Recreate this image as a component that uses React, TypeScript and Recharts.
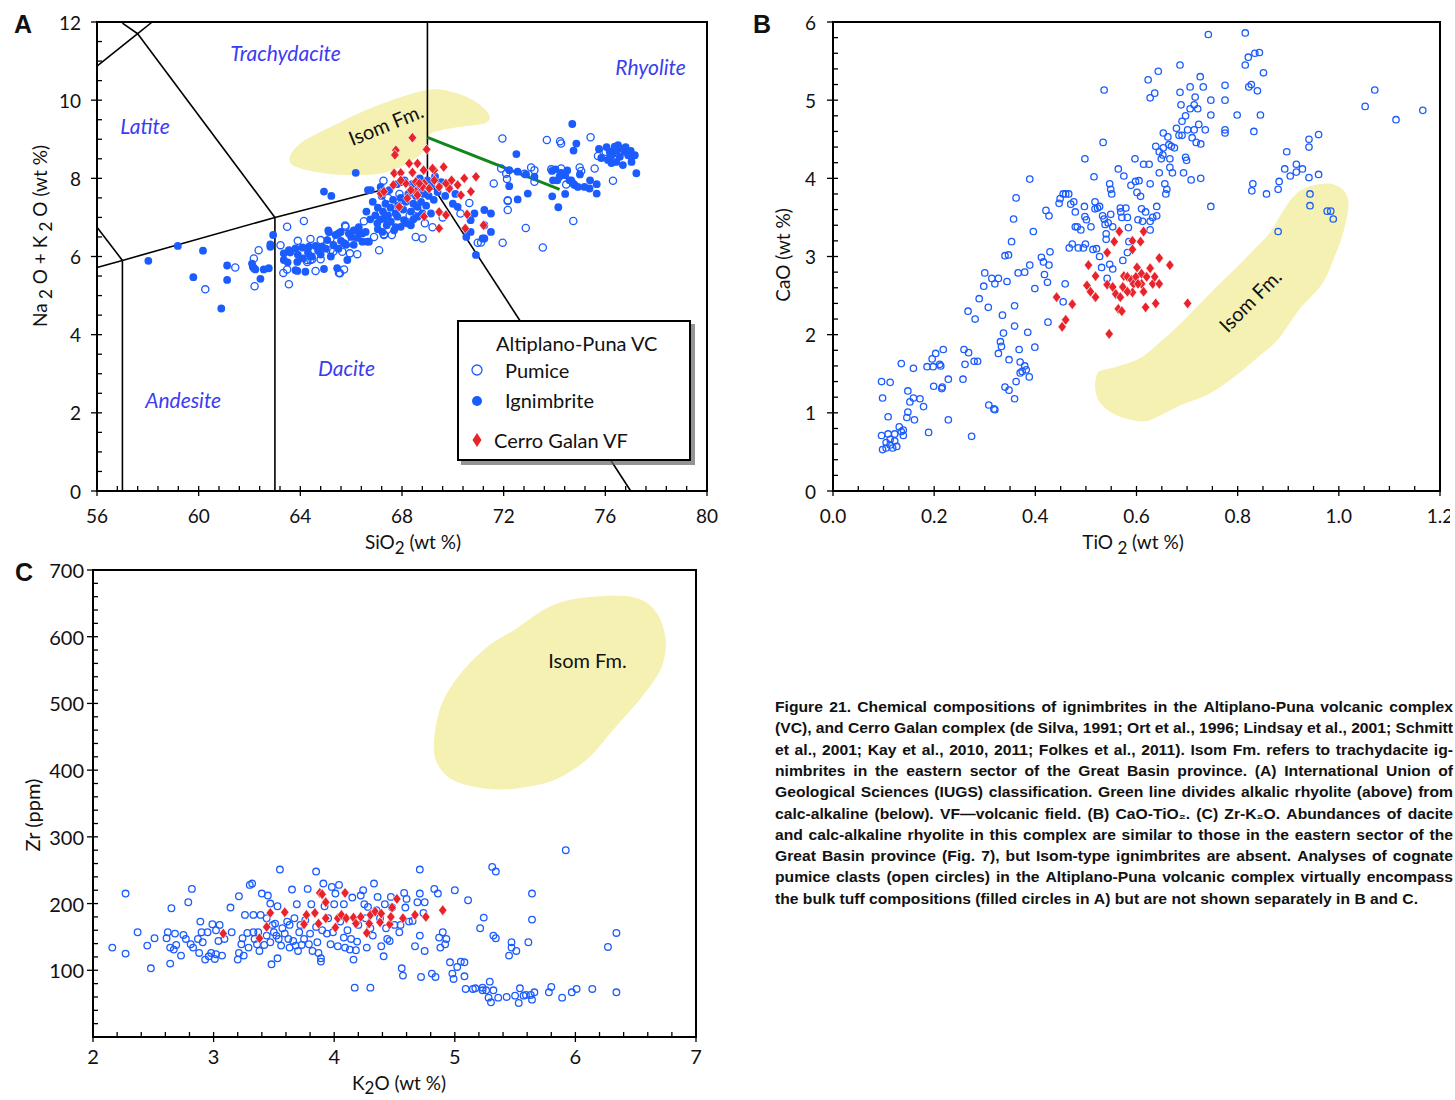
import React from 'react';
import {
  ScatterChart,
  Scatter,
  XAxis,
  YAxis,
  ReferenceLine,
  ReferenceArea,
  ReferenceDot,
  Legend,
} from 'recharts';

type P = [number, number];

const BLUE = '#1b5cff';
const RED = '#e8232b';
const LABEL_BLUE = '#3b3cf2';
const BLOB = '#f5f1b3';
const FONT = 'Lato, "Open Sans", "Noto Sans", sans-serif';

// ---------------- Panel A data (SiO2 vs Na2O+K2O) ----------------
const aIgnimbrite: P[] = [
  [58.02, 5.89], [59.18, 6.27], [60.17, 6.15], [59.79, 5.47], [61.12, 5.77], [61.12, 5.4], [60.89, 4.67],
  [62.13, 5.74], [62.23, 5.67], [62.56, 5.67], [62.76, 5.7], [62.43, 5.43], [62.82, 6.25], [62.93, 6.55],
  [62.17, 5.7], [62.1, 5.82], [62.82, 6.31], [63.35, 6.08], [63.55, 6.16], [63.81, 6.21], [64.08, 6.23],
  [64.34, 6.25], [64.6, 6.27], [64.86, 6.25], [65.12, 6.63], [65.06, 6.42], [65.39, 6.55], [65.59, 6.63],
  [65.72, 6.34], [65.91, 6.59], [66.18, 6.67], [66.44, 6.59], [66.57, 6.63], [66.7, 6.38], [66.44, 6.38],
  [63.35, 5.91], [63.88, 5.86], [63.81, 5.65], [64.2, 5.61], [64.93, 5.68], [65.45, 5.7], [65.85, 5.91],
  [63.88, 5.63], [63.5, 5.85], [63.6, 6.1], [63.9, 6.05], [64.1, 5.95], [64.3, 6.1], [64.45, 6.0],
  [64.7, 6.15], [64.8, 6.05], [65.0, 6.2], [65.2, 6.0], [65.3, 6.3], [65.5, 6.2], [65.6, 6.4], [65.8, 6.3],
  [66.0, 6.5], [66.1, 6.3], [66.25, 6.48], [66.3, 6.75], [65.1, 6.67], [65.5, 6.59], [66.1, 6.67],
  [66.37, 6.6], [66.64, 6.38], [64.93, 7.66], [65.22, 7.55], [66.66, 7.7], [66.18, 8.14],
  [67.03, 6.85], [67.29, 6.97], [67.56, 6.89], [67.82, 7.02], [68.08, 6.93], [68.35, 6.8], [67.23, 6.63],
  [67.69, 6.67], [67.95, 6.76], [68.61, 7.02], [69.14, 7.1], [68.61, 7.27],
  [66.95, 7.05], [67.05, 7.25], [67.15, 6.95], [67.25, 7.15], [67.35, 7.35], [67.45, 7.05], [67.55, 7.25],
  [67.65, 7.45], [67.75, 7.1], [67.85, 7.3], [67.95, 7.5], [68.05, 7.2], [68.15, 7.4], [68.25, 7.6],
  [68.35, 7.15], [68.45, 7.35], [68.55, 7.55], [68.65, 7.75], [68.75, 7.4], [68.85, 7.6], [68.95, 7.3],
  [69.05, 7.55], [69.15, 7.8], [69.25, 7.45], [69.4, 7.65], [69.55, 7.9], [69.7, 7.55], [69.85, 7.75],
  [70.0, 7.35], [70.1, 7.6], [66.85, 7.4], [67.2, 7.55], [67.5, 7.7], [67.8, 7.85], [68.1, 7.95],
  [68.4, 7.85], [68.7, 8.0], [69.0, 7.95], [69.3, 8.05], [67.05, 6.7], [67.4, 6.8], [67.75, 6.75],
  [68.2, 6.85], [68.45, 6.95], [68.8, 7.1], [66.75, 6.95], [66.6, 7.15], [66.77, 7.7], [67.16, 7.78],
  [70.58, 6.63], [70.91, 6.04], [71.24, 6.8], [71.5, 6.63], [70.85, 7.1], [71.24, 7.19], [71.5, 7.1],
  [71.24, 6.46], [70.7, 6.63], [71.17, 6.46], [70.53, 6.5], [70.19, 7.27], [70.7, 6.93],
  [74.7, 9.39], [74.86, 8.89], [74.75, 8.71], [72.5, 8.62], [74.66, 7.95], [74.79, 7.83], [75.18, 7.78],
  [75.38, 7.74], [75.66, 7.61], [75.66, 7.85], [73.91, 7.54], [74.42, 7.6], [74.15, 7.26], [72.95, 7.61],
  [72.55, 7.46], [72.22, 7.8], [73.9, 8.19], [74.04, 8.23], [74.26, 8.14], [74.42, 8.08], [74.11, 7.95],
  [73.94, 7.95], [74.59, 7.95], [74.73, 7.87], [74.92, 7.78], [72.22, 8.21], [72.55, 8.17], [72.88, 8.1],
  [73.21, 8.04], [74.2, 8.05], [74.5, 8.2], [75.0, 8.1], [75.4, 7.95],
  [75.75, 8.75], [76.1, 8.47], [76.17, 8.68], [76.37, 8.81], [76.5, 8.85], [76.63, 8.76], [76.76, 8.68],
  [76.9, 8.59], [77.03, 8.55], [77.16, 8.59], [76.57, 8.55], [76.43, 8.42], [76.69, 8.34], [77.03, 8.42],
  [77.22, 8.13], [76.24, 8.39], [75.84, 8.52], [76.3, 8.62], [76.45, 8.72], [76.8, 8.8], [77.0, 8.7],
  [76.2, 8.55], [76.05, 8.8],
];

const aPumice: P[] = [
  [71.95, 9.02], [73.7, 8.98], [74.22, 8.95], [74.26, 8.89], [75.42, 9.05], [76.01, 8.68], [75.71, 8.57],
  [71.9, 8.25], [72.1, 8.12], [72.13, 7.98], [72.82, 8.12], [73.08, 8.28], [73.21, 8.21], [73.21, 7.91],
  [71.61, 7.87], [73.87, 8.23], [74.26, 8.25], [74.99, 8.28], [75.05, 8.19], [75.58, 8.25], [74.46, 7.84],
  [76.3, 7.94], [72.16, 7.42], [72.16, 7.19], [72.87, 6.73], [71.96, 6.35], [73.54, 6.23], [74.74, 6.91],
  [67.27, 7.94], [68.81, 6.46], [68.54, 6.5], [67.1, 6.16], [71.11, 6.36], [63.48, 6.76], [64.14, 6.91],
  [62.36, 6.16], [62.17, 5.95], [61.44, 5.72], [60.26, 5.16], [62.2, 5.24], [63.22, 6.29], [63.55, 5.29],
  [63.33, 5.58], [63.48, 5.67], [64.27, 5.91], [64.47, 5.93], [64.8, 5.93], [64.6, 5.63], [65.72, 5.67],
  [65.56, 5.57], [65.29, 6.12], [65.95, 6.08], [66.24, 6.06], [64.8, 6.42], [65.19, 6.46], [65.76, 6.79],
  [66.11, 6.59], [67.29, 6.55], [67.14, 7.1], [70.65, 7.37], [72.16, 7.44], [70.98, 6.35], [67.9, 7.6],
  [68.3, 7.05], [66.9, 6.5], [67.6, 6.55], [68.9, 6.85], [69.6, 7.0], [70.3, 7.1], [69.2, 6.75],
  [66.0, 6.35], [64.4, 6.45], [63.9, 6.4], [64.4, 5.91], [64.27, 5.86], [65.19, 6.16], [65.65, 6.12],
  [65.52, 5.58], [65.78, 6.76], [67.29, 6.57], [67.45, 7.5], [68.0, 7.45], [68.6, 7.2], [66.5, 6.9],
];

const aCerroGalan: P[] = [
  [68.41, 9.04], [67.76, 8.72], [67.72, 8.6], [68.28, 8.38], [68.61, 8.38], [68.41, 8.15], [67.69, 8.13],
  [67.95, 8.14], [68.85, 8.21], [69.27, 8.21], [69.64, 8.29], [67.16, 7.61], [67.29, 7.66], [67.66, 7.83],
  [68.15, 7.87], [68.54, 7.91], [68.87, 7.87], [68.21, 7.49], [68.54, 7.66], [67.89, 7.27], [68.87, 7.02],
  [69.46, 7.14], [69.46, 6.72], [68.97, 8.74], [69.2, 8.25], [69.27, 7.95], [69.46, 7.78], [70.45, 8.0],
  [70.91, 8.04], [70.19, 7.83], [69.86, 7.74], [69.73, 7.87], [70.32, 7.57], [70.71, 7.66], [68.61, 7.57],
  [68.81, 7.78], [69.07, 7.74], [68.68, 7.87], [69.73, 7.06], [70.56, 7.08], [70.49, 6.72], [71.21, 6.8],
  [67.95, 7.95], [68.35, 7.7], [69.95, 7.95],
];

const aIsomOutline: P[] = [
  [63.59, 8.55], [63.8, 8.3], [64.93, 8.13], [66.24, 8.08], [67.29, 8.14], [68.22, 8.38], [68.87, 8.72],
  [69.06, 9.1], [69.53, 9.23], [70.32, 9.32], [71.24, 9.4], [71.44, 9.6], [70.98, 9.92], [70.19, 10.17],
  [69.01, 10.26], [66.9, 9.83], [64.93, 9.23], [64.01, 8.9],
];

const tasBoundaries: P[][] = [
  [[57, 0], [57, 5.9]],
  [[63, 0], [63, 7]],
  [[56, 5.72], [57, 5.9]],
  [[57, 5.9], [63, 7]],
  [[63, 7], [69, 8]],
  [[69, 8], [77, 0]],
  [[69, 8], [69, 12]],
  [[63, 7], [57.6, 11.7]],
  [[57.6, 11.7], [58.17, 12]],
  [[57.6, 11.7], [57, 11.97]],
  [[56, 10.87], [57.6, 11.7]],
  [[56, 6.75], [57, 5.9]],
];
const alkalicDivide: P[] = [[69, 9.05], [74.2, 7.72]];

const tasFieldNames = ['Trachydacite', 'Latite', 'Rhyolite', 'Dacite', 'Andesite'];
const tasFieldPos: P[] = [[63.42, 11.23], [57.89, 9.36], [77.78, 10.87], [65.82, 3.17], [59.39, 2.35]];

// ---------------- Panel B data (TiO2 vs CaO) ----------------
const bPumice: P[] = [
  [0.096, 1.4], [0.113, 1.39], [0.098, 1.19], [0.109, 0.95], [0.096, 0.71], [0.105, 0.62], [0.098, 0.53],
  [0.113, 0.59], [0.122, 0.64], [0.109, 0.73], [0.131, 0.82], [0.139, 0.78], [0.139, 0.71], [0.118, 0.55],
  [0.126, 0.57], [0.135, 0.76], [0.113, 0.66], [0.105, 0.55], [0.122, 0.73],
  [0.135, 1.63], [0.159, 1.57], [0.148, 1.28], [0.152, 1.14], [0.159, 1.19], [0.148, 1.01], [0.146, 0.94],
  [0.161, 0.91], [0.172, 1.18], [0.179, 1.08], [0.189, 0.75], [0.186, 1.59], [0.196, 1.69], [0.203, 1.76],
  [0.198, 1.59], [0.211, 1.62], [0.213, 1.6], [0.218, 1.81], [0.199, 1.34], [0.216, 1.33], [0.215, 1.31],
  [0.228, 1.43], [0.228, 0.91], [0.257, 1.43], [0.259, 1.81], [0.261, 1.62], [0.268, 1.77], [0.279, 1.66],
  [0.286, 1.66], [0.274, 0.7], [0.267, 2.3], [0.281, 2.2], [0.289, 2.46], [0.3, 2.79], [0.298, 2.62],
  [0.307, 2.35], [0.314, 2.72], [0.32, 2.65], [0.327, 2.72], [0.308, 1.1], [0.318, 1.05], [0.32, 1.04],
  [0.335, 2.25], [0.337, 2.02], [0.333, 1.85], [0.327, 1.76], [0.331, 1.91], [0.34, 1.33], [0.348, 1.29],
  [0.348, 1.68], [0.344, 2.68], [0.34, 3.01], [0.347, 3.02], [0.353, 3.19], [0.357, 3.48], [0.362, 3.75],
  [0.389, 3.99], [0.359, 2.37], [0.359, 2.11], [0.366, 2.79], [0.379, 2.8], [0.362, 1.4], [0.359, 1.18],
  [0.368, 1.81], [0.37, 1.65], [0.374, 1.53], [0.379, 1.6], [0.382, 1.55], [0.37, 1.51], [0.385, 2.03],
  [0.389, 2.89], [0.388, 1.46], [0.396, 3.32], [0.399, 2.59], [0.399, 1.84], [0.412, 2.99], [0.416, 2.93],
  [0.418, 2.77], [0.421, 3.59], [0.427, 3.52], [0.424, 2.67], [0.425, 2.16], [0.427, 2.89], [0.429, 3.06],
  [0.449, 3.74], [0.447, 3.68], [0.455, 3.8], [0.46, 3.8], [0.466, 3.8], [0.47, 3.67], [0.476, 3.7],
  [0.479, 3.57], [0.467, 3.11], [0.473, 3.16], [0.479, 3.38], [0.483, 3.38], [0.485, 3.11], [0.455, 2.42],
  [0.459, 2.65],
  [0.498, 4.25], [0.497, 3.64], [0.498, 3.51], [0.501, 3.47], [0.499, 3.16], [0.495, 3.11], [0.49, 3.34],
  [0.51, 3.38], [0.516, 4.02], [0.518, 3.7], [0.518, 3.61], [0.523, 3.62], [0.527, 3.64], [0.514, 3.09],
  [0.521, 3.1], [0.527, 3.0], [0.536, 5.13], [0.534, 4.46], [0.531, 2.86], [0.533, 3.52], [0.536, 3.48],
  [0.538, 3.41], [0.544, 3.43], [0.547, 3.93], [0.549, 3.86], [0.551, 3.8], [0.549, 3.54], [0.553, 3.38],
  [0.54, 3.29], [0.54, 3.22], [0.542, 2.72], [0.547, 2.9], [0.553, 2.84], [0.564, 4.12], [0.568, 3.62],
  [0.569, 3.57], [0.571, 3.5], [0.573, 2.95], [0.575, 4.03], [0.579, 3.62], [0.582, 3.5], [0.584, 3.37],
  [0.585, 3.19], [0.589, 3.91], [0.582, 3.05], [0.597, 4.25], [0.598, 3.96], [0.601, 3.82], [0.603, 3.47],
  [0.605, 3.97], [0.608, 3.77], [0.61, 3.61], [0.612, 3.45], [0.614, 4.18], [0.618, 3.57], [0.623, 5.26],
  [0.625, 4.18], [0.627, 5.03], [0.627, 3.93], [0.627, 3.45], [0.627, 3.34], [0.632, 3.5], [0.636, 5.09],
  [0.638, 4.41], [0.64, 3.52], [0.64, 3.64], [0.643, 5.37], [0.645, 4.34], [0.645, 4.07], [0.649, 4.25],
  [0.652, 4.3], [0.653, 4.58], [0.653, 4.39], [0.656, 3.93], [0.658, 3.8], [0.66, 3.86], [0.662, 4.53],
  [0.664, 4.43], [0.666, 4.25], [0.666, 4.14], [0.669, 4.41], [0.671, 4.07], [0.675, 4.39], [0.679, 4.64],
  [0.684, 4.55], [0.686, 5.45], [0.686, 5.1], [0.688, 4.94], [0.69, 4.73], [0.69, 4.55], [0.693, 4.07],
  [0.697, 4.8], [0.697, 4.27], [0.699, 4.23], [0.701, 4.62], [0.706, 5.17], [0.706, 4.89], [0.708, 3.98],
  [0.71, 4.52], [0.714, 4.94], [0.714, 4.62], [0.716, 5.04], [0.718, 4.46], [0.721, 4.89], [0.723, 4.69],
  [0.726, 5.3], [0.727, 4.44], [0.727, 4.0], [0.732, 5.17], [0.736, 4.62], [0.742, 5.84], [0.747, 5.0],
  [0.747, 4.81], [0.747, 3.64], [0.775, 5.19], [0.775, 5.0], [0.775, 4.62], [0.775, 4.58], [0.799, 4.81],
  [0.815, 5.86], [0.815, 5.45], [0.821, 5.55], [0.827, 5.2], [0.822, 5.17], [0.834, 5.6], [0.839, 5.12],
  [0.843, 5.61], [0.845, 4.81], [0.832, 4.6], [0.851, 5.35], [0.828, 3.84], [0.83, 3.93], [0.857, 3.8],
  [0.88, 3.86], [0.882, 3.96], [0.88, 3.32], [0.893, 4.12], [0.897, 4.34], [0.904, 4.03], [0.916, 4.18],
  [0.916, 4.08], [0.928, 4.12], [0.941, 4.5], [0.941, 4.4], [0.941, 4.01], [0.943, 3.8], [0.943, 3.65],
  [0.96, 4.56], [0.96, 4.05], [0.977, 3.58], [0.984, 3.58], [0.989, 3.48], [1.052, 4.92], [1.071, 5.13],
  [1.113, 4.75], [1.166, 4.87],
];

const bCerroGalan: P[] = [
  [0.442, 2.48], [0.453, 2.1], [0.46, 2.19], [0.473, 2.39], [0.505, 2.89], [0.502, 2.63], [0.509, 2.55],
  [0.519, 2.75], [0.519, 2.48], [0.542, 3.05], [0.542, 2.64], [0.546, 2.01], [0.556, 3.19], [0.553, 2.61],
  [0.559, 2.52], [0.566, 3.32], [0.568, 2.48], [0.564, 2.33], [0.571, 2.3], [0.573, 2.61], [0.575, 2.75],
  [0.582, 2.74], [0.59, 2.7], [0.592, 3.2], [0.592, 3.09], [0.594, 2.65], [0.592, 2.54], [0.599, 2.74],
  [0.601, 2.86], [0.608, 3.19], [0.61, 2.78], [0.61, 2.65], [0.614, 3.32], [0.614, 2.55], [0.618, 2.35],
  [0.62, 2.74], [0.627, 2.85], [0.632, 2.65], [0.636, 2.74], [0.638, 2.4], [0.645, 2.98], [0.645, 2.65],
  [0.666, 2.89], [0.701, 2.4], [0.603, 2.65], [0.582, 2.55],
];

const bIsomOutline: P[] = [
  [0.523, 1.51], [0.518, 1.33], [0.527, 1.14], [0.557, 0.98], [0.61, 0.89], [0.645, 0.96], [0.688, 1.1],
  [0.74, 1.23], [0.793, 1.46], [0.836, 1.69], [0.88, 1.94], [0.923, 2.33], [0.967, 2.65], [0.993, 3.02],
  [1.01, 3.34], [1.019, 3.66], [1.01, 3.84], [0.984, 3.93], [0.949, 3.91], [0.923, 3.84], [0.902, 3.7],
  [0.884, 3.52], [0.862, 3.29], [0.828, 3.06], [0.793, 2.83], [0.758, 2.61], [0.723, 2.38], [0.688, 2.15],
  [0.653, 1.94], [0.61, 1.71], [0.566, 1.6], [0.536, 1.55],
];

// ---------------- Panel C data (K2O vs Zr) ----------------
const cPumice: P[] = [
  [2.16, 134], [2.27, 215], [2.27, 125], [2.37, 157], [2.45, 137], [2.48, 103], [2.51, 148], [2.61, 148],
  [2.62, 157], [2.64, 110], [2.64, 134], [2.65, 193], [2.67, 131], [2.68, 155], [2.69, 138], [2.73, 122],
  [2.75, 153], [2.77, 147], [2.79, 202], [2.81, 139], [2.82, 222], [2.83, 134], [2.87, 147], [2.88, 126],
  [2.89, 173], [2.9, 157], [2.91, 142], [2.93, 116], [2.95, 157], [2.96, 121], [2.98, 126], [2.99, 169],
  [3.01, 117], [3.02, 124], [3.02, 160], [3.04, 144], [3.05, 168], [3.07, 122], [3.09, 147], [3.14, 194],
  [3.15, 157], [3.2, 116], [3.21, 211], [3.21, 126], [3.23, 139], [3.24, 148], [3.25, 122], [3.26, 183],
  [3.28, 156], [3.29, 134], [3.3, 228], [3.32, 230], [3.33, 157], [3.33, 183], [3.34, 147], [3.36, 139],
  [3.37, 157], [3.38, 129], [3.39, 183], [3.4, 215], [3.42, 138], [3.44, 152], [3.44, 178], [3.45, 212],
  [3.47, 200], [3.47, 142], [3.48, 109], [3.49, 168], [3.5, 157], [3.51, 170], [3.52, 152], [3.53, 118],
  [3.53, 196], [3.54, 147], [3.55, 251], [3.56, 137], [3.57, 163], [3.59, 155], [3.61, 173], [3.62, 147],
  [3.63, 134], [3.63, 168], [3.65, 221], [3.66, 144], [3.67, 178], [3.68, 137], [3.69, 199], [3.7, 129],
  [3.71, 157], [3.72, 168], [3.73, 138], [3.75, 147], [3.76, 175], [3.78, 222], [3.79, 139], [3.8, 155],
  [3.81, 199], [3.82, 129], [3.85, 165], [3.85, 248], [3.86, 142], [3.87, 126], [3.89, 118], [3.89, 113],
  [3.9, 160], [3.91, 230], [3.92, 196], [3.94, 155], [3.95, 178], [3.97, 139], [3.98, 225], [3.99, 157],
  [4.0, 199], [4.01, 215], [4.03, 136], [4.04, 228], [4.05, 173], [4.08, 149], [4.08, 199], [4.09, 134],
  [4.11, 160], [4.13, 131], [4.14, 147], [4.15, 209], [4.16, 116], [4.17, 74], [4.18, 130], [4.19, 143],
  [4.2, 168], [4.22, 212], [4.24, 220], [4.25, 199], [4.26, 178], [4.27, 134], [4.28, 195], [4.3, 74],
  [4.3, 163], [4.32, 152], [4.33, 230], [4.35, 190], [4.36, 210], [4.38, 178], [4.39, 136], [4.41, 121],
  [4.42, 199], [4.43, 163], [4.44, 147], [4.46, 144], [4.47, 210], [4.48, 194], [4.5, 168], [4.54, 157],
  [4.55, 168], [4.56, 103], [4.57, 92], [4.58, 216], [4.59, 194], [4.6, 207], [4.62, 173], [4.65, 174],
  [4.67, 136], [4.69, 202], [4.71, 251], [4.71, 215], [4.71, 152], [4.72, 90], [4.74, 186], [4.75, 129],
  [4.75, 202], [4.81, 95], [4.83, 222], [4.84, 90], [4.86, 215], [4.87, 149], [4.88, 134], [4.9, 157],
  [4.92, 139], [4.93, 147], [4.96, 112], [4.98, 95], [4.99, 87], [5.0, 220], [5.02, 105], [5.05, 113],
  [5.08, 112], [5.08, 91], [5.09, 72], [5.11, 205], [5.15, 72], [5.17, 73], [5.21, 163], [5.23, 74],
  [5.23, 70], [5.24, 179], [5.26, 70], [5.28, 59], [5.29, 83], [5.3, 52], [5.31, 255], [5.32, 70],
  [5.32, 152], [5.34, 248], [5.34, 148], [5.36, 59], [5.43, 60], [5.45, 122], [5.47, 134], [5.47, 142],
  [5.5, 62], [5.51, 129], [5.53, 51], [5.54, 73], [5.57, 62], [5.59, 63], [5.61, 142], [5.63, 63],
  [5.64, 215], [5.64, 56], [5.64, 176], [5.66, 67], [5.78, 67], [5.8, 75], [5.89, 59], [5.92, 280],
  [5.97, 67], [6.01, 72], [6.14, 72], [6.27, 135], [6.34, 67], [6.34, 156],
];

const cCerroGalan: P[] = [
  [3.08, 155], [3.38, 148], [3.44, 165], [3.47, 186], [3.59, 187], [3.75, 169], [3.77, 183], [3.84, 186],
  [3.87, 170], [3.88, 216], [3.9, 214], [3.93, 178], [3.93, 202], [4.01, 164], [4.03, 178], [4.06, 183],
  [4.09, 216], [4.1, 178], [4.16, 179], [4.18, 170], [4.22, 180], [4.27, 156], [4.29, 170], [4.3, 183],
  [4.34, 188], [4.38, 172], [4.39, 185], [4.46, 169], [4.47, 180], [4.48, 194], [4.52, 207], [4.57, 178],
  [4.67, 183], [4.76, 180], [4.9, 190],
];

const cIsomOutline: P[] = [
  [4.826, 438], [4.883, 495], [5.035, 542], [5.263, 584], [5.492, 610], [5.797, 646], [6.101, 659],
  [6.482, 659], [6.673, 636], [6.749, 594], [6.711, 553], [6.558, 511], [6.33, 464], [6.101, 417],
  [5.835, 386], [5.53, 373], [5.263, 372], [4.997, 384], [4.864, 407],
];

// ---------------- Axis tick values ----------------
const seq = (a: number, b: number, step: number) => {
  const out: number[] = [];
  for (let i = 0; a + i * step <= b + 1e-9; i++) out.push(Math.round((a + i * step) * 10000) / 10000);
  return out;
};
const aXMajor = [56, 60, 64, 68, 72, 76, 80];
const aYMajor = [0, 2, 4, 6, 8, 10, 12];
const bXMajor = [0, 0.2, 0.4, 0.6, 0.8, 1.0, 1.2];
const bYMajor = [0, 1, 2, 3, 4, 5, 6];
const cXMajor = [2, 3, 4, 5, 6, 7];
const cYMajor = [100, 200, 300, 400, 500, 600, 700];

const aXTicks = seq(56, 80, 0.8);
const aYTicks = seq(0, 12, 0.5);
const bXTicks = seq(0, 1.2, 0.05);
const bYTicks = seq(0, 6, 0.2);
const cXTicks = seq(2, 7, 0.2);
const cYTicks = seq(0, 700, 20);

const captionLines = [
  'Figure 21. Chemical compositions of ignimbrites in the Altiplano-Puna volcanic complex',
  '(VC), and Cerro Galan complex (de Silva, 1991; Ort et al., 1996; Lindsay et al., 2001; Schmitt',
  'et al., 2001; Kay et al., 2010, 2011; Folkes et al., 2011). Isom Fm. refers to trachydacite ig-',
  'nimbrites in the eastern sector of the Great Basin province. (A) International Union of',
  'Geological Sciences (IUGS) classification. Green line divides alkalic rhyolite (above) from',
  'calc-alkaline (below). VF\u2014volcanic field. (B) CaO-TiO\u2082. (C) Zr-K\u2082O. Abundances of dacite',
  'and calc-alkaline rhyolite in this complex are similar to those in the eastern sector of the',
  'Great Basin province (Fig. 7), but Isom-type ignimbrites are absent. Analyses of cognate',
  'pumice clasts (open circles) in the Altiplano-Puna volcanic complex virtually encompass',
  'the bulk tuff compositions (filled circles in A) but are not shown separately in B and C.',
];

// ---------------- helpers ----------------
const toObj = (arr: P[]) => arr.map(([x, y]) => ({ x, y }));
const isIn = (list: number[], v: number) => list.some((m) => Math.abs(m - v) < 1e-6);

function makeXTick(majors: number[], fmt: (v: number) => string, fontSize: number, labelDy: number) {
  return (props: any) => {
    const { x, y, payload } = props;
    const v = payload.value;
    const major = isIn(majors, v);
    return (
      <g>
        <line x1={x} x2={x} y1={major ? y + 5 : y} y2={y - 5} stroke="#000" strokeWidth={1.3} />
        {major && (
          <text x={x} y={y + labelDy} textAnchor="middle" dominantBaseline="central" fontSize={fontSize} fontFamily={FONT} fill="#111">
            {fmt(v)}
          </text>
        )}
      </g>
    );
  };
}

function makeYTick(majors: number[], fmt: (v: number) => string, fontSize: number, labelDx: number) {
  return (props: any) => {
    const { x, y, payload } = props;
    const v = payload.value;
    const major = isIn(majors, v);
    return (
      <g>
        <line x1={major ? x - 6 : x} x2={x + 5} y1={y} y2={y} stroke="#000" strokeWidth={1.3} />
        {major && (
          <text x={x - labelDx} y={y} textAnchor="end" dominantBaseline="central" fontSize={fontSize} fontFamily={FONT} fill="#111">
            {fmt(v)}
          </text>
        )}
      </g>
    );
  };
}

const openCircle = (r: number) => (p: any) => (
  <circle cx={p.cx} cy={p.cy} r={r} fill="none" stroke={BLUE} strokeWidth={1.3} />
);
const filledCircle = (r: number) => (p: any) => <circle cx={p.cx} cy={p.cy} r={r} fill={BLUE} />;
const diamond = (hw: number, hh: number) => (p: any) => (
  <polygon
    points={`${p.cx},${p.cy - hh} ${p.cx + hw},${p.cy} ${p.cx},${p.cy + hh} ${p.cx - hw},${p.cy}`}
    fill={RED}
    stroke="#fff"
    strokeWidth={0.6}
  />
);

function bounds(outline: P[]) {
  const xs = outline.map((p) => p[0]);
  const ys = outline.map((p) => p[1]);
  return { x1: Math.min(...xs), x2: Math.max(...xs), y1: Math.min(...ys), y2: Math.max(...ys) };
}

function blobShape(outline: P[], label: { x: number; y: number; rotate: number; size: number }) {
  const b = bounds(outline);
  return (props: any) => {
    const { x, y, width, height } = props;
    const sx = (v: number) => x + ((v - b.x1) / (b.x2 - b.x1)) * width;
    const sy = (v: number) => y + ((b.y2 - v) / (b.y2 - b.y1)) * height;
    const pts = outline.map(([a, c]) => [sx(a), sy(c)]);
    const n = pts.length;
    let d = `M${pts[0][0]},${pts[0][1]}`;
    for (let i = 0; i < n; i++) {
      const p0 = pts[(i - 1 + n) % n];
      const p1 = pts[i];
      const p2 = pts[(i + 1) % n];
      const p3 = pts[(i + 2) % n];
      const c1 = [p1[0] + (p2[0] - p0[0]) / 6, p1[1] + (p2[1] - p0[1]) / 6];
      const c2 = [p2[0] - (p3[0] - p1[0]) / 6, p2[1] - (p3[1] - p1[1]) / 6];
      d += ` C${c1[0]},${c1[1]} ${c2[0]},${c2[1]} ${p2[0]},${p2[1]}`;
    }
    const lx = sx(label.x);
    const ly = sy(label.y);
    return (
      <g>
        <path d={d + ' Z'} fill={BLOB} stroke="none" />
        <text
          x={lx}
          y={ly}
          transform={`rotate(${label.rotate} ${lx} ${ly})`}
          textAnchor="middle"
          dominantBaseline="central"
          fontSize={label.size}
          fontFamily={FONT}
          fill="#111"
        >
          Isom Fm.
        </text>
      </g>
    );
  };
}

const fieldLabel = (name: string) => (p: any) => (
  <text x={p.cx} y={p.cy} textAnchor="middle" dominantBaseline="central" fontSize={21} fontStyle="italic" fontFamily={FONT} fill={LABEL_BLUE}>
    {name}
  </text>
);

const LegendBox = () => (
  <svg width={240} height={148} style={{ display: 'block', overflow: 'visible' }}>
    <rect x={4} y={4} width={234} height={141} fill="#666" opacity={0.7} />
    <rect x={1} y={1} width={232} height={139} fill="#fff" stroke="#000" strokeWidth={2} />
    <text x={39} y={23} dominantBaseline="central" fontSize={20} fontFamily={FONT} fill="#111">Altiplano-Puna VC</text>
    <circle cx={20} cy={50} r={5} fill="none" stroke={BLUE} strokeWidth={1.3} />
    <text x={48} y={50} dominantBaseline="central" fontSize={20} fontFamily={FONT} fill="#111">Pumice</text>
    <circle cx={20} cy={81} r={5} fill={BLUE} />
    <text x={48} y={80} dominantBaseline="central" fontSize={20} fontFamily={FONT} fill="#111">Ignimbrite</text>
    <polygon points="20,113 24.5,120 20,127 15.5,120" fill={RED} />
    <text x={37} y={120} dominantBaseline="central" fontSize={20} fontFamily={FONT} fill="#111">Cerro Galan VF</text>
  </svg>
);

const axisLineStyle = { stroke: '#000', strokeWidth: 2 };

function PanelA() {
  return (
    <ScatterChart width={730} height={560} margin={{ top: 22, right: 23, bottom: 0, left: 0 }}>
      <XAxis
        type="number"
        dataKey="x"
        domain={[56, 80]}
        ticks={aXTicks}
        interval={0}
        allowDataOverflow
        height={69}
        tickSize={0}
        tickMargin={0}
        tickLine={false}
        axisLine={axisLineStyle}
        tick={makeXTick(aXMajor, (v) => String(v), 19, 24)}
      />
      <YAxis
        type="number"
        dataKey="y"
        domain={[0, 12]}
        ticks={aYTicks}
        interval={0}
        allowDataOverflow
        width={97}
        tickSize={0}
        tickMargin={0}
        tickLine={false}
        axisLine={axisLineStyle}
        tick={makeYTick(aYMajor, (v) => String(v), 19, 16)}
      />
      <ReferenceArea
        {...bounds(aIsomOutline)}
        ifOverflow="visible"
        shape={blobShape(aIsomOutline, { x: 67.36, y: 9.39, rotate: -22, size: 20 })}
      />
      {tasFieldNames.map((name, i) => (
        <ReferenceDot key={name} x={tasFieldPos[i][0]} y={tasFieldPos[i][1]} ifOverflow="visible" shape={fieldLabel(name)} />
      ))}
      <Scatter data={toObj(aPumice)} isAnimationActive={false} shape={openCircle(3.6)} />
      <Scatter data={toObj(aIgnimbrite)} isAnimationActive={false} shape={filledCircle(3.9)} />
      <Scatter data={toObj(aCerroGalan)} isAnimationActive={false} shape={diamond(4.3, 5.2)} />
      {tasBoundaries.map((seg, i) => (
        <ReferenceLine
          key={i}
          segment={[{ x: seg[0][0], y: seg[0][1] }, { x: seg[1][0], y: seg[1][1] }]}
          stroke="#000"
          strokeWidth={1.6}
          ifOverflow="visible"
        />
      ))}
      <ReferenceLine
        segment={[{ x: alkalicDivide[0][0], y: alkalicDivide[0][1] }, { x: alkalicDivide[1][0], y: alkalicDivide[1][1] }]}
        stroke="#11861a"
        strokeWidth={3}
        ifOverflow="visible"
      />
      <ReferenceArea x1={56} x2={80} y1={0} y2={12} fill="none" stroke="#000" strokeWidth={2} ifOverflow="visible" />
      <Legend
        layout="horizontal"
        verticalAlign="middle"
        align="center"
        wrapperStyle={{ left: 457, top: 320, width: 240, height: 148 }}
        content={() => <LegendBox />}
      />
    </ScatterChart>
  );
}

function PanelB() {
  return (
    <ScatterChart width={714} height={560} margin={{ top: 22, right: 10, bottom: 0, left: 0 }}>
      <XAxis
        type="number"
        dataKey="x"
        domain={[0, 1.2]}
        ticks={bXTicks}
        interval={0}
        allowDataOverflow
        height={69}
        tickSize={0}
        tickMargin={0}
        tickLine={false}
        axisLine={axisLineStyle}
        tick={makeXTick(bXMajor, (v) => v.toFixed(1), 19, 24)}
      />
      <YAxis
        type="number"
        dataKey="y"
        domain={[0, 6]}
        ticks={bYTicks}
        interval={0}
        allowDataOverflow
        width={97}
        tickSize={0}
        tickMargin={0}
        tickLine={false}
        axisLine={axisLineStyle}
        tick={makeYTick(bYMajor, (v) => String(v), 19, 17)}
      />
      <ReferenceArea
        {...bounds(bIsomOutline)}
        ifOverflow="visible"
        shape={blobShape(bIsomOutline, { x: 0.824, y: 2.44, rotate: -45, size: 20 })}
      />
      <Scatter data={toObj(bPumice)} isAnimationActive={false} shape={openCircle(3.2)} />
      <Scatter data={toObj(bCerroGalan)} isAnimationActive={false} shape={diamond(4.2, 5.4)} />
      <ReferenceArea x1={0} x2={1.2} y1={0} y2={6} fill="none" stroke="#000" strokeWidth={2} ifOverflow="visible" />
    </ScatterChart>
  );
}

function PanelC() {
  return (
    <ScatterChart width={717} height={550} margin={{ top: 20, right: 21, bottom: 0, left: 0 }}>
      <XAxis
        type="number"
        dataKey="x"
        domain={[2, 7]}
        ticks={cXTicks}
        interval={0}
        allowDataOverflow
        height={63}
        tickSize={0}
        tickMargin={0}
        tickLine={false}
        axisLine={axisLineStyle}
        tick={makeXTick(cXMajor, (v) => String(v), 20, 19)}
      />
      <YAxis
        type="number"
        dataKey="y"
        domain={[0, 700]}
        ticks={cYTicks}
        interval={0}
        allowDataOverflow
        width={93}
        tickSize={0}
        tickMargin={0}
        tickLine={false}
        axisLine={axisLineStyle}
        tick={makeYTick(cYMajor, (v) => String(v), 20, 9)}
      />
      <ReferenceArea
        {...bounds(cIsomOutline)}
        ifOverflow="visible"
        shape={blobShape(cIsomOutline, { x: 6.1, y: 565, rotate: 0, size: 20 })}
      />
      <Scatter data={toObj(cPumice)} isAnimationActive={false} shape={openCircle(3.3)} />
      <Scatter data={toObj(cCerroGalan)} isAnimationActive={false} shape={diamond(4.2, 5.4)} />
      <ReferenceArea x1={2} x2={7} y1={0} y2={700} fill="none" stroke="#000" strokeWidth={2} ifOverflow="visible" />
    </ScatterChart>
  );
}

const titleProps = { fontFamily: FONT, fontSize: 19, fill: '#111' };

// caption typesetting (justified lines, measured with canvas)
const CAP_FAMILY = '"Liberation Sans Narrow", "Liberation Sans", Arial, sans-serif';
const CAP_SIZE = 14;
const CAP_LEFT = 775;
const CAP_WIDTH = 678;
const CAP_LAST_WIDTH = 643;

function makeMeasurer() {
  let ctx: CanvasRenderingContext2D | null = null;
  try {
    ctx = document.createElement('canvas').getContext('2d');
  } catch (e) {
    ctx = null;
  }
  if (ctx) ctx.font = `bold ${CAP_SIZE}px ${CAP_FAMILY}`;
  return (s: string) => (ctx ? ctx.measureText(s).width : s.length * CAP_SIZE * 0.56);
}

function Caption() {
  const measure = makeMeasurer();
  const lastLine = captionLines[captionLines.length - 1];
  const scale = CAP_LAST_WIDTH / measure(lastLine);
  const space = measure(' ');
  return (
    <g>
      {captionLines.map((line, i) => {
        const last = i === captionLines.length - 1;
        const words = line.split(' ');
        const widths = words.map(measure);
        const total = widths.reduce((a, b) => a + b, 0);
        const target = CAP_WIDTH / scale;
        const gap = last ? space : (target - total) / (words.length - 1);
        let pos = 0;
        const xs = widths.map((w) => {
          const x0 = pos;
          pos += w + gap;
          return x0;
        });
        return (
          <text
            key={i}
            transform={`translate(${CAP_LEFT} ${712 + i * 21.3}) scale(${scale} 1)`}
            fontFamily={CAP_FAMILY}
            fontWeight="bold"
            fontSize={CAP_SIZE}
            fill="#111"
          >
            {words.map((w, j) => (
              <tspan key={j} x={xs[j]} y={0}>
                {w}
              </tspan>
            ))}
          </text>
        );
      })}
    </g>
  );
}

function Overlay() {
  return (
    <svg width={1455} height={1100} style={{ position: 'absolute', left: 0, top: 0, pointerEvents: 'none' }}>
      <text x={14} y={33} fontFamily="Liberation Sans, Arial, sans-serif" fontWeight="bold" fontSize={25} fill="#111">A</text>
      <text x={753} y={33} fontFamily="Liberation Sans, Arial, sans-serif" fontWeight="bold" fontSize={25} fill="#111">B</text>
      <text x={15} y={581} fontFamily="Liberation Sans, Arial, sans-serif" fontWeight="bold" fontSize={25} fill="#111">C</text>

      {/* Panel A titles */}
      <text transform="translate(47,236) rotate(-90)" textAnchor="middle" {...titleProps}>
        Na<tspan dy={5} fontSize={17}> 2</tspan><tspan dy={-5}> O + K</tspan><tspan dy={5} fontSize={17}> 2</tspan><tspan dy={-5}> O (wt %)</tspan>
      </text>
      <text x={413} y={549} textAnchor="middle" {...titleProps}>
        SiO<tspan dy={5} fontSize={17}>2</tspan><tspan dy={-5}> (wt %)</tspan>
      </text>

      {/* Panel B titles */}
      <text transform="translate(790,255) rotate(-90)" textAnchor="middle" {...titleProps}>CaO (wt %)</text>
      <text x={1133} y={549} textAnchor="middle" {...titleProps}>
        TiO<tspan dy={5} fontSize={17}> 2</tspan><tspan dy={-5}> (wt %)</tspan>
      </text>

      {/* Panel C titles */}
      <text transform="translate(40,815) rotate(-90)" textAnchor="middle" fontFamily={FONT} fontSize={20} fill="#111">Zr (ppm)</text>
      <text x={399} y={1090} textAnchor="middle" {...titleProps}>
        K<tspan dy={4} fontSize={17}>2</tspan><tspan dy={-4}>O (wt %)</tspan>
      </text>

      <Caption />
    </svg>
  );
}

export default function App() {
  return (
    <div style={{ position: 'absolute', left: 0, top: 0, width: 1455, height: 1100, background: '#fff', overflow: 'hidden' }}>
      <div style={{ position: 'absolute', left: 0, top: 0 }}>
        <PanelA />
      </div>
      <div style={{ position: 'absolute', left: 736, top: 0 }}>
        <PanelB />
      </div>
      <div style={{ position: 'absolute', left: 0, top: 550 }}>
        <PanelC />
      </div>
      <Overlay />
    </div>
  );
}
